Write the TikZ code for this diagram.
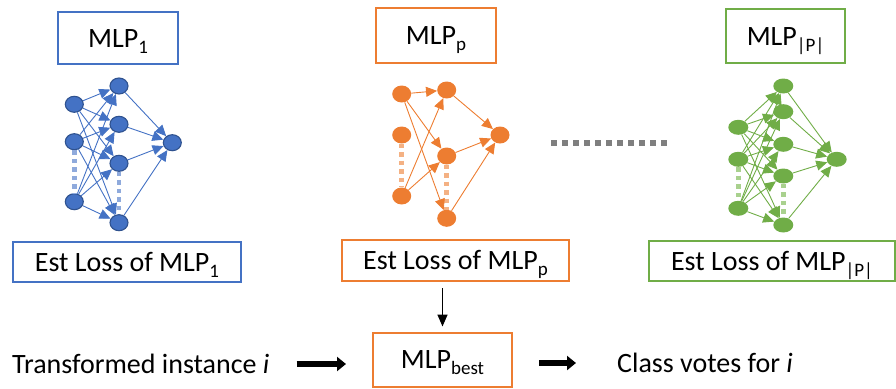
\documentclass[tikz,border=0pt]{standalone}
\usepackage{fontspec}
\setmainfont{Carlito}
\usetikzlibrary{arrows.meta,shapes.geometric}
\definecolor{oblue}{HTML}{4472C4}
\definecolor{obluedark}{HTML}{2F528F}
\definecolor{obluelight}{HTML}{8FAADC}
\definecolor{oorange}{HTML}{ED7D31}
\definecolor{oorangelight}{HTML}{F4B183}
\definecolor{ogreen}{HTML}{70AD47}
\definecolor{ogreenlight}{HTML}{A9D18E}
\definecolor{ogray}{HTML}{7F7F7F}
\newcommand\lowsub[1]{\raisebox{-6pt}{\fontsize{19}{21}\selectfont #1}}
\tikzset{
  labelbox/.style={draw, line width=2pt, inner sep=0pt, text height=18.2pt, text depth=0pt, fill=white},
  plaintext/.style={inner sep=0pt, text height=18.5pt, text depth=0pt},
  neuron/.style={ellipse, inner sep=0pt},
  bneuron/.style={neuron, fill=oblue, draw=obluedark, line width=1.1pt, minimum width=18pt, minimum height=16pt},
  oneuron/.style={neuron, fill=oorange, minimum width=19pt, minimum height=17pt},
  gneuron/.style={neuron, fill=ogreen, minimum width=20pt, minimum height=15pt},
  link/.style={line width=0.9pt, -{Triangle[length=11pt,width=10pt]}},
  gapline/.style={line width=4.5pt, dash pattern=on 4.5pt off 4pt},
  thinarrow/.style={line width=1.6pt, -{Triangle[length=12pt,width=10pt]}},
  fatarrow/.style={line width=6pt, -{Triangle[length=9pt,width=14pt]}}
}
\begin{document}
\begin{tikzpicture}[x=1pt,y=-1pt,font=\fontsize{28}{32}\selectfont]
\useasboundingbox (0,0) rectangle (896,388);

% top labels
\node[labelbox, draw=oblue, minimum width=120pt, minimum height=52pt] (t1) at (118,38) {MLP\lowsub{1}};
\node[labelbox, draw=oorange, minimum width=120pt, minimum height=55pt] (tp) at (436,35.5) {MLP\lowsub{p}};
\node[labelbox, draw=ogreen, minimum width=119pt, minimum height=54pt] (tP) at (785.5,36) {MLP\lowsub{|P|}};

% blue network
\node[bneuron] (bi1) at (74.3,104.3) {};
\node[bneuron] (bi2) at (74.3,141.7) {};
\node[bneuron] (bi3) at (74.3,201.7) {};
\node[bneuron] (bh1) at (119,86) {};
\node[bneuron] (bh2) at (119,124.3) {};
\node[bneuron] (bh3) at (119,163.3) {};
\node[bneuron] (bh4) at (119,222.7) {};
\node[bneuron] (bo) at (172.3,142.7) {};
\draw[gapline, obluelight] (bi2.south) -- (bi3.north);
\draw[gapline, obluelight] (bh3.south) -- (bh4.north);
\foreach \i in {1,2,3}{
  \foreach \h in {1,2,3,4}{
    \draw[link, oblue] (bi\i) -- (bh\h);
  }
}
\foreach \h in {1,2,3,4}{
  \draw[link, oblue] (bh\h) -- (bo);
}

% orange network
\node[oneuron] (oi1) at (401.7,94) {};
\node[oneuron] (oi2) at (401.7,135) {};
\node[oneuron] (oi3) at (401.7,196) {};
\node[oneuron] (oh1) at (446.7,90) {};
\node[oneuron] (oh2) at (446.7,156) {};
\node[oneuron] (oh3) at (446.7,218.3) {};
\node[oneuron] (oo) at (500,135) {};
\draw[gapline, oorangelight] (oi2.south) -- (oi3.north);
\draw[gapline, oorangelight] (oh2.south) -- (oh3.north);
\foreach \a/\b in {oi1/oh1, oi1/oh2, oi1/oh3, oi3/oh1, oi3/oh2, oh1/oo, oh2/oo, oh3/oo}{
  \draw[link, oorange] (\a) -- (\b);
}

% green network
\node[gneuron] (gi1) at (738.3,127.3) {};
\node[gneuron] (gi2) at (738.3,159.3) {};
\node[gneuron] (gi3) at (738.3,208.3) {};
\node[gneuron] (gh1) at (783.3,86) {};
\node[gneuron] (gh2) at (783.3,111.7) {};
\node[gneuron] (gh3) at (783.3,144.3) {};
\node[gneuron] (gh4) at (783.3,176) {};
\node[gneuron] (gh5) at (783.3,225) {};
\node[gneuron] (go) at (836.7,159.3) {};
\draw[gapline, ogreenlight] (gi2.south) -- (gi3.north);
\draw[gapline, ogreenlight] (gh4.south) -- (gh5.north);
\foreach \i in {1,2,3}{
  \foreach \h in {1,2,3,4,5}{
    \draw[link, ogreen] (gi\i) -- (gh\h);
  }
}
\foreach \h in {1,2,3,4,5}{
  \draw[link, ogreen] (gh\h) -- (go);
}

% gray dots between networks
\coordinate (dotsL) at (551,143);
\coordinate (dotsR) at (670,143);
\draw[ogray, line width=6pt, dash pattern=on 6pt off 5pt] (dotsL) -- (dotsR);

% bottom labels
\node[labelbox, draw=oblue, minimum width=228pt, minimum height=40pt] (b1) at (127,262) {Est Loss of MLP\lowsub{1}};
\node[labelbox, draw=oorange, minimum width=227pt, minimum height=41pt] (bp) at (455.5,260.5) {Est Loss of MLP\lowsub{p}};
\node[labelbox, draw=ogreen, minimum width=246pt, minimum height=40pt] (bP) at (772,261) {Est Loss of MLP\lowsub{|P|}};

\node[labelbox, draw=oorange, minimum width=139pt, minimum height=54pt] (best) at (442.5,359.5) {MLP\lowsub{best}};
\node[plaintext, anchor=west] (trans) at (12,364) {Transformed instance \textit{i}};
\node[plaintext, anchor=west] (votes) at (617,363) {Class votes for \textit{i}};

\draw[thinarrow, shorten <=6pt, shorten >=5pt] (best.north |- bp.south) -- (best.north);
\draw[fatarrow, shorten <=27pt, shorten >=26pt] (trans.east) -- (trans.east -| best.west);
\draw[fatarrow, shorten <=26pt, shorten >=41pt] (votes.west -| best.east) -- (votes.west);
\end{tikzpicture}
\end{document}
